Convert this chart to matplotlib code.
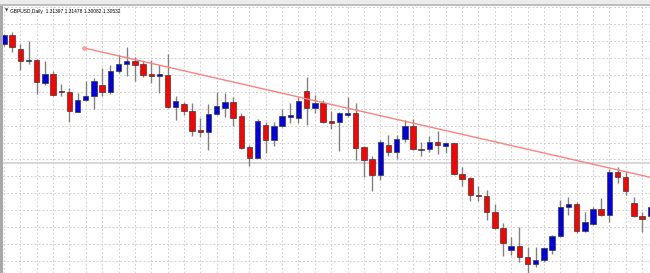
import matplotlib
matplotlib.use("Agg")
import matplotlib.pyplot as plt
from matplotlib.patches import Rectangle
import numpy as np

# Daily GBPUSD candles (chart units)
opens = [229, 237.7, 224, 211.7, 213.3, 190, 199.3, 182.3, 180.7, 161,
         173.3, 176.7, 188.3, 181, 201.7, 209, 211.7, 209, 198.3, 197.3,
         198.3, 166.3, 168.7, 161.7, 142.7, 141, 159, 165.3, 171.3, 157,
         125.7, 115.3, 148, 133, 147, 156.3, 155.3, 182.3, 165.3, 170.3,
         151.3, 150.7, 158, 160.3, 126.3, 113.7, 98, 128, 121.3, 134,
         147, 124, 123.7, 131.3, 127.3, 129.7, 98.7, 95.3, 78, 77,
         61.3, 44.7, 23, 27.3, 16.3, 9, 13, 23, 37.3, 65.7,
         69, 42.3, 48.7, 64, 58, 101.3, 96.3, 70.3, 57, 57]
highs = [239, 241, 229.3, 231.7, 214, 211.7, 201.7, 189, 185, 180,
         191.7, 195, 205, 208.3, 217.7, 226, 215.7, 211.7, 212.7, 207.7,
         219.3, 176.7, 171, 170, 155, 169, 181.5, 180.3, 175.7, 159.7,
         128, 153.7, 151.3, 151.3, 164, 170.3, 175.7, 195.7, 178, 173,
         162.3, 161.3, 175.7, 169.7, 127, 117, 133, 138, 138, 153,
         153.7, 131, 137, 142.3, 131.3, 130.3, 106.3, 96.3, 87, 83,
         69, 49.7, 36.3, 45.7, 25.7, 26.3, 26.3, 38, 73, 76.3,
         71.3, 61.3, 65.7, 74.7, 103.7, 106.3, 102.3, 75.7, 60.7, 68]
lows = [227, 221, 202.7, 209, 179.3, 187.7, 176.7, 176.7, 151, 160.7,
        172.3, 164.3, 176.7, 179.3, 200, 196.7, 192.3, 195.7, 190, 180,
        165, 153.3, 157.7, 136.7, 135.7, 122.7, 158.5, 156.3, 147, 124,
        107.3, 114.7, 120.3, 127, 146.3, 149.7, 150.3, 148, 160.3, 149.7,
        143.7, 122.3, 155.7, 113, 96.3, 82.3, 93, 117, 114, 131.3,
        123, 117, 121.3, 119, 120.3, 98, 87, 72, 72, 53,
        44, 17, 18, 11.3, 0.3, 6.3, 11.3, 18.7, 36.3, 58,
        40.3, 41.3, 48, 57, 51.3, 89.7, 78, 56.3, 41.3, 55]
closes = [237.7, 225.7, 211.7, 213.3, 190.7, 199.3, 177.7, 180.7, 161.7, 173.3,
          176.7, 191.7, 181, 201.7, 209, 211.7, 207.7, 198.3, 197.3, 198.3,
          166, 172.3, 161.7, 142.3, 141, 159.3, 167.3, 171.3, 155.3, 124.7,
          115.3, 152, 133, 147, 157, 157, 172, 165.3, 170.3, 150.7,
          150.3, 159.7, 159.7, 125.3, 113, 98, 130.7, 121.3, 134, 147,
          123.7, 122.7, 131.3, 128, 129.7, 98.7, 94, 78, 76.7, 61.3,
          44.7, 29.7, 27.3, 16.3, 9, 13, 24.7, 37.3, 66.3, 69,
          42.3, 51.3, 64, 58, 101.3, 96.3, 82.3, 57.3, 53.7, 66]

trend_x = [9.8, 79.0]
trend_y = [225, 95.7]
hline_level = 110.3
header = "GBPUSD,Daily  1.31397 1.31478 1.30082 1.30532"

W, H = 650, 273
fig = plt.figure(figsize=(W / 100, H / 100), dpi=100)
fig.patch.set_facecolor("white")

# toolbar strip and left border
fig.patches.append(Rectangle((0, 1 - 3.5 / H), 1, 3.5 / H, transform=fig.transFigure,
                             facecolor="#ECECEC", edgecolor="none", zorder=0))
fig.patches.append(Rectangle((0, 1 - 6 / H), 1, 2.5 / H, transform=fig.transFigure,
                             facecolor="#BEBEBE", edgecolor="none", zorder=0))
fig.patches.append(Rectangle((0, 0), 3 / W, 1 - 6 / H, transform=fig.transFigure,
                             facecolor="#A8A8A8", edgecolor="none", zorder=0))

ax = fig.add_axes([3 / W, 0, (W - 3) / W, (H - 6) / H])
ax.set_xlim(-0.12, 78.97)
ax.set_ylim(0, 267)
for s in ax.spines.values():
    s.set_visible(False)
ax.set_xticks([])
ax.set_yticks([])

grid_kw = dict(color="#D2D2D2", lw=0.7, linestyle=(0, (2, 2)), zorder=0)
for k in range(-1, 15):
    ax.axhline(249 - 16.93 * k, **grid_kw)
for xi in range(0, 80, 2):
    ax.axvline(xi, **grid_kw)

ax.axhline(hline_level, color="#D4D4D4", lw=1.3, zorder=1)

n = len(opens)
xs = np.arange(n)
for i in range(n):
    o, h, l, c = opens[i], highs[i], lows[i], closes[i]
    ax.plot([xs[i], xs[i]], [l, h], color="#808080", lw=1.0, zorder=2,
            solid_capstyle="butt")
    col = "#0000E6" if c > o else "#FF0000"
    bot = min(o, c)
    ht = max(abs(c - o), 1.3)
    ax.add_patch(Rectangle((xs[i] - 0.33, bot), 0.66, ht, facecolor=col,
                           edgecolor="#3A3A3A", lw=0.5, zorder=3))

ax.plot(trend_x, trend_y, color="#FF8080", lw=1.0, zorder=4)
ax.plot(trend_x[0], trend_y[0], marker="o", ms=2.5, mfc="#FFB0B0",
        mec="#FF8080", mew=0.6, zorder=5)

fig.text(4.5 / W, 1 - 11 / H, "\u25bc", fontsize=3, color="#303030",
         va="center", ha="left")
fig.text(10 / W, 1 - 11 / H, header, fontsize=3.5, family="Liberation Sans",
         color="black", va="center", ha="left")

fig.savefig("out.png", dpi=100, facecolor="white")
